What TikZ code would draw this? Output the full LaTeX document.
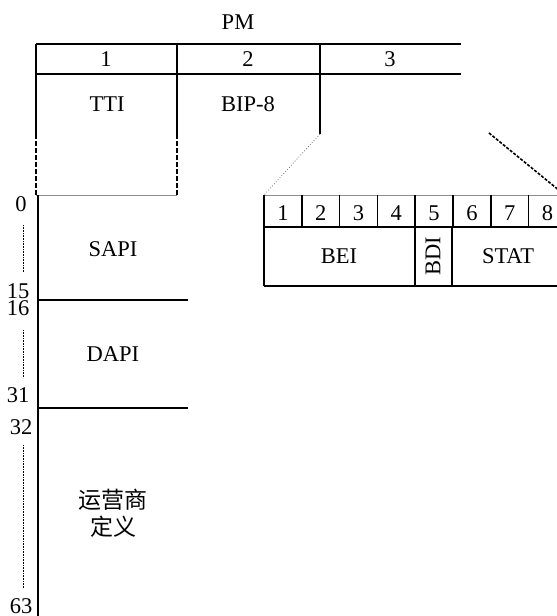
\documentclass[tikz,border=0pt]{standalone}
\usepackage{fontspec}
\setmainfont{Liberation Serif}
\newfontfamily\cjk{Noto Sans CJK SC}
\usetikzlibrary{positioning}

\tikzset{
    rule/.style={line width=1.6pt, black},
    thinrule/.style={line width=0.9pt, black!45},
    lbl/.style={font=\fontsize{22.5}{24}\selectfont, inner sep=0pt},
    idx/.style={font=\fontsize{22.5}{24}\selectfont, inner sep=0pt},
    span/.style={line width=1pt, dash pattern=on 1pt off 0.6pt},
}

\begin{document}
\begin{tikzpicture}[x=1pt, y=-1pt]
    \clip (0,0) rectangle (557,616);

    % Title
    \node[lbl] (pm) at (238,22) {PM};

    % Top header row: columns 1, 2, 3
    \draw[rule] (36,44) -- (461,44);
    \draw[rule] (36,74) -- (461,74);
    \draw[rule] (36,44) -- (36,134);
    \draw[rule] (177,44) -- (177,134);
    \draw[rule] (320,44) -- (320,134);
    \node[idx] (c1) at (106,59) {1};
    \node[idx] (c2) at (248,59) {2};
    \node[idx] (c3) at (390,59) {3};

    % Field names
    \node[lbl] (tti) at (107,104) {TTI};
    \node[lbl] (bip) at (248,104) {BIP-8};

    % Expansion of TTI (dashed sides)
    \draw[line width=2.2pt, dash pattern=on 5pt off 2pt] (36,134) -- (36,195);
    \draw[line width=2.2pt, dash pattern=on 5pt off 2pt] (177,134) -- (177,195);
    \draw[thinrule] (36,195) -- (177,195);

    % TTI byte column
    \draw[line width=2pt] (38,195) -- (38,616);
    \draw[rule, line width=1.4pt] (38,300) -- (188,300);
    \draw[rule, line width=1.4pt] (38,408) -- (188,408);
    \node[lbl] (sapi) at (113,249) {SAPI};
    \node[lbl] (dapi) at (113,354) {DAPI};
    \node[font=\cjk\fontsize{23}{27}\selectfont, align=center, inner sep=0pt] (opr) at (113,513) {运营商\\定义};

    % Byte indices
    \node[idx] (i0) at (21,204) {0};
    \node[idx] (i15) at (18,291) {15};
    \node[idx] (i16) at (18,308) {16};
    \node[idx] (i31) at (18,395) {31};
    \node[idx] (i32) at (21,427) {32};
    \node[idx] (i63) at (21,606) {63};
    \draw[span] (23,225) -- (23,272);
    \draw[span] (23,330) -- (23,378);
    \draw[span] (23,445) -- (23,588);

    % Expansion of column 3
    \draw[line width=0.8pt, black!55, dotted] (320,134) -- (264,195);
    \draw[line width=1.6pt, dash pattern=on 3pt off 1.5pt] (489,133) -- (566,196);

    % Bit row 1..8
    \draw[thinrule] (264,195) -- (566,195);
    \draw[rule] (264,227) -- (566,227);
    \draw[rule] (264,286) -- (566,286);
    \foreach \i in {1,...,8} {
        \pgfmathsetmacro{\xl}{264+(\i-1)*37.8}
        \draw[rule] (\xl,195) -- (\xl,227);
        \node[idx] (b\i) at (\xl+18.9,213) {\i};
    }
    \draw[rule] (264,227) -- (264,286);
    \draw[rule] (415,227) -- (415,286);
    \draw[rule] (452,227) -- (452,286);
    \node[lbl] (bei) at (339,256) {BEI};
    \node[lbl, rotate=90] (bdi) at (433,256) {BDI};
    \node[lbl] (stat) at (508,256) {STAT};
\end{tikzpicture}
\end{document}
